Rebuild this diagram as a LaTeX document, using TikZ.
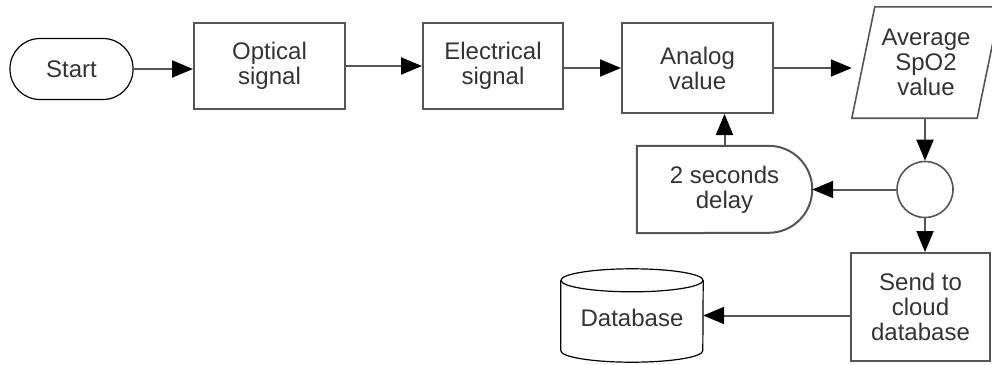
\documentclass[tikz,border=0pt]{standalone}
\usepackage{fontspec}
\setmainfont{Liberation Sans}
\usetikzlibrary{arrows.meta,calc}

\definecolor{edge}{HTML}{555555}
\definecolor{ink}{HTML}{333333}

\tikzset{
  x=1pt, y=1pt,
  every node/.style={font=\fontsize{24}{25}\selectfont, text=ink, align=center, inner sep=0pt},
  procbox/.style={draw=edge, line width=2pt, rectangle},
  ghost/.style={rectangle},
  flow/.style={draw=edge, line width=2pt, -{Triangle[length=21pt,width=17pt,fill=black,color=black]}},
}

\begin{document}
\begin{tikzpicture}
  \useasboundingbox (0,0) rectangle (992,-364);

  % start terminator
  \node[draw=black, line width=1.2pt, rounded corners=30pt,
        minimum width=123pt, minimum height=61pt] (start) at (71.5,-69) {Start};

  % processing steps
  \node[procbox, minimum width=151pt, minimum height=86pt] (optical) at (269.5,-66) {Optical\\signal};
  \node[procbox, minimum width=140pt, minimum height=86pt] (electrical) at (493,-66) {Electrical\\signal};
  \node[procbox, minimum width=151pt, minimum height=90pt] (analog) at (697.5,-68) {Analog\\value};

  % data (parallelogram)
  \node[ghost, minimum width=148pt, minimum height=111pt] (avg) at (926,-62.5) {Average\\SpO2\\value};
  \draw[edge, line width=1.6pt]
    (avg.south west) -- ($(avg.north west)+(23,0)$) -- (avg.north east) -- ($(avg.south east)+(-23,0)$) -- cycle;

  % connector circle
  \node[draw=edge, line width=1.6pt, circle, minimum size=56pt] (join) at (925,-189.5) {};

  % delay shape
  \node[ghost, minimum width=175pt, minimum height=87pt] (delay) at (724.5,-189.5) {2 seconds\\delay};
  \draw[edge, line width=2pt]
    (delay.north west) -- ($(delay.north east)+(-43.5,0)$)
    arc[start angle=90, end angle=-90, radius=43.5pt]
    -- (delay.south west) -- cycle;

  % cloud upload step
  \node[procbox, minimum width=139pt, minimum height=108pt] (send) at (920.5,-307) {Send to\\cloud\\database};

  % database cylinder
  \node[ghost, minimum width=142pt, minimum height=93pt] (db) at (632,-315.5) {};
  \node at (632,-318) {Database};
  \draw[black, line width=1.2pt]
    ($(db.north west)+(0,-11.5)$) -- ($(db.south west)+(0,11.5)$)
    arc[x radius=71pt, y radius=11.5pt, start angle=180, end angle=360]
    -- ($(db.north east)+(0,-11.5)$);
  \draw[black, line width=1.2pt] ($(db.north)+(0,-11.5)$) ellipse[x radius=71pt, y radius=11.5pt];

  % connectors
  \draw[flow] (start) -- (start -| optical.west);
  \draw[flow] (optical) -- (electrical);
  \draw[flow] (electrical.east |- analog) -- (analog.west);
  \draw[flow] (analog) -- (analog -| avg.west);
  \draw[flow] (avg.south -| join.north) -- (join.north);
  \draw[flow] (join.west) -- (join -| delay.east);
  \draw[flow] (delay.north) -- (delay.north |- analog.south);
  \draw[flow] (join.south) -- (join.south |- send.north);
  \draw[flow] (send.west |- db.east) -- (db.east);
\end{tikzpicture}
\end{document}
